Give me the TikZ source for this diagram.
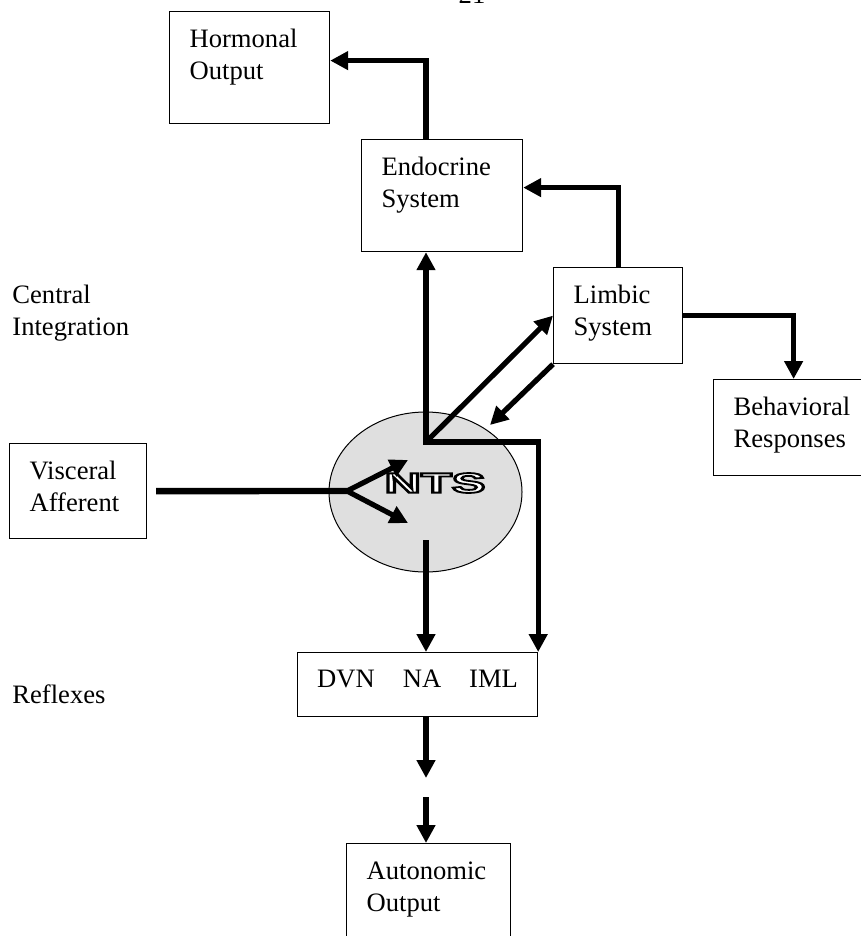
\documentclass[tikz,border=0pt]{standalone}
\usepackage{fontspec}
\setmainfont{Liberation Serif}
\newfontfamily\ntsfont{Liberation Sans}
\usepackage{graphicx}
\usetikzlibrary{shapes.geometric, arrows.meta, calc}
\hyphenpenalty=10000
\hbadness=10000
\hfuzz=20pt
% outlined letters: white fill, black stroke
\newcommand{\hollow}[1]{{\color{white}\special{pdf:literal direct q 2 Tr 0.9 w 0 G}#1\special{pdf:literal direct Q}}}

\begin{document}
\begin{tikzpicture}[x=0.5pt, y=-0.5pt, font=\fontsize{13.3}{16}\selectfont,
    box/.style={draw, line width=0.6pt, anchor=north west, align=left, inner xsep=10pt, inner ysep=0pt, text height=18pt},
    side/.style={anchor=north west, align=left, inner sep=0pt},
    arr/.style={line width=2.6pt, -{Triangle[length=9pt, width=9pt]}}]
    \useasboundingbox (0,0) rectangle (861,936);
    \clip (0,0) rectangle (861,936);
    \node (page) [anchor=base, inner sep=0pt] at (472,4) {21};
    \node (horm) [box, text width=60pt, text depth=38pt] at (169,11) {Hormonal\\Output};
    \node (endo) [box, text width=60.5pt, text depth=38pt] at (361,139) {Endocrine\\System};
    \node (limb) [box, text width=44.5pt, text depth=30pt] at (553,267) {Limbic\\System};
    \node (behav) [box, text width=60pt, text depth=30pt] at (713,379) {Behavioral\\Responses};
    \node (visc) [box, text width=48.5pt, text depth=29.5pt] at (9,443) {Visceral\\Afferent};
    \node (nts) [ellipse, draw, line width=0.5pt, fill=gray!25, minimum width=96.5pt, minimum height=80pt, inner sep=0pt] at (425.5,492) {};
    \node (ntsText) [inner sep=0pt] at (435,483) {\fontsize{14}{16}\selectfont\ntsfont\bfseries\scalebox{1.8}[1]{\hollow{NTS}}};
    \node (dvn) [draw, line width=0.6pt, anchor=north west, minimum width=120pt, inner ysep=0pt, text height=17.5pt, text depth=14.5pt] at (297,652) {DVN\hspace{14pt}NA\hspace{14pt}IML};
    \node (autoOut) [box, text width=62pt, text depth=38pt] at (346,843) {Autonomic\\Output};
    \node (central) [side] at (12,285) {Central\\Integration};
    \node (reflex) [side] at (12,684) {Reflexes};

    \coordinate (hub) at (426,442);
    \coordinate (split) at (347,491);
    \coordinate (afUp) at (408,460);
    \coordinate (afDown) at (408,523);
    \coordinate (ntsOut) at (426,540);
    \coordinate (fbTip) at (490,425);
    \coordinate (gapTop) at (426,778);
    \coordinate (gapBot) at (426,797);

    \draw [arr] (endo.north -| hub) |- ([yshift=3.5pt]horm.east);
    \draw [arr] (limb.north) |- ([yshift=4pt]endo.east);
    \draw [arr] (limb.east) -| (behav.north);
    \draw [arr, {Triangle[length=9pt, width=9pt]}-{Triangle[length=9pt, width=9pt]}] (hub |- endo.south) -- (hub) -| (dvn.north east);
    \draw [arr] (hub) -- (limb.west);
    \draw [arr] (limb.south west) -- (fbTip);
    \draw [line width=3.2pt] ([xshift=4.5pt]visc.east) -- (split);
    \draw [arr] (split) -- (afUp);
    \draw [arr] (split) -- (afDown);
    \draw [arr] (ntsOut) -- (ntsOut |- dvn.north);
    \draw [arr] (dvn.south -| gapTop) -- (gapTop);
    \draw [arr] (gapBot) -- (gapBot |- autoOut.north);
\end{tikzpicture}
\end{document}
